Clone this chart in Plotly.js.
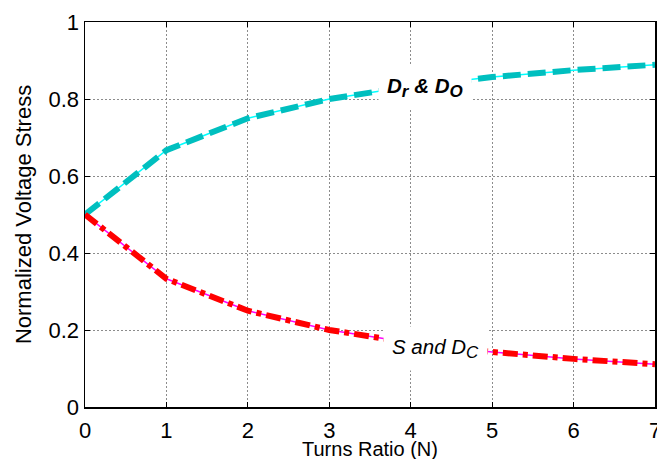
<!DOCTYPE html>
<html>
<head>
<meta charset="utf-8">
<script src="https://cdn.plot.ly/plotly-3.0.1.min.js"></script>
<style>html,body{margin:0;padding:0;background:#fff;}#chart{width:657px;height:459px;}</style>
</head>
<body>
<div id="chart"></div>
<script>
// Data
var turnsRatio = [0, 1, 2, 3, 4, 5, 6, 7];
var diodeStress = [0.5, 0.667, 0.75, 0.8, 0.833, 0.857, 0.875, 0.889];   // Dr & Do
var switchStress = [0.5, 0.333, 0.25, 0.2, 0.167, 0.143, 0.125, 0.111];  // S and Dc
var xTicks = [0, 1, 2, 3, 4, 5, 6, 7];
var yTicks = [0, 0.2, 0.4, 0.6, 0.8, 1];
var yTickLabels = ['0', '0.2', '0.4', '0.6', '0.8', '1'];

var FONT = 'Liberation Sans, Arial, sans-serif';

var traces = [
  {x: turnsRatio, y: diodeStress, mode: 'lines', line: {color: '#00FFFF', width: 1.5}, hoverinfo: 'skip'},
  {x: turnsRatio, y: diodeStress, mode: 'lines', line: {color: '#00BFBF', width: 6, dash: '18px,7px'}},
  {x: turnsRatio, y: switchStress, mode: 'lines', line: {color: '#FF00FF', width: 1.5}, hoverinfo: 'skip'},
  {x: turnsRatio, y: switchStress, mode: 'lines', line: {color: '#FF0000', width: 6, dash: '15px,5px,5px,5px'}}
];

var axisCommon = {
  showline: true, linecolor: '#000', linewidth: 1.5, mirror: 'ticks',
  ticks: 'inside', ticklen: 5, tickcolor: '#000', tickwidth: 1,
  showgrid: true, gridcolor: '#8c8c8c', gridwidth: 1, griddash: '2px,2px',
  zeroline: false, ticklabeloverflow: 'allow',
  tickfont: {family: FONT, size: 22, color: '#000'}
};

var layout = {
  width: 657, height: 459,
  margin: {l: 85, r: 2, t: 22, b: 52},
  paper_bgcolor: '#fff', plot_bgcolor: '#fff',
  showlegend: false,
  xaxis: Object.assign({}, axisCommon, {
    range: [0, 7], tickvals: xTicks, ticktext: xTicks.map(String), ticklabelstandoff: 3
  }),
  yaxis: Object.assign({}, axisCommon, {
    range: [0, 1], tickvals: yTicks, ticktext: yTickLabels,
    title: {text: 'Normalized Voltage Stress', font: {family: FONT, size: 22, color: '#000'}, standoff: 11}
  }),
  annotations: [
    {x: 0.5, y: -0.108, xref: 'paper', yref: 'paper', showarrow: false,
     xanchor: 'center', yanchor: 'middle',
     text: 'Turns Ratio (N)', font: {family: FONT, size: 20, color: '#000'}},
    {x: 4.17, y: 0.831, xref: 'x', yref: 'y', showarrow: false,
     text: '<b><i>D<sub><span style="font-size:17px">r</span></sub> &amp; D<sub><span style="font-size:17px">O</span></sub></i></b>',
     font: {family: FONT, size: 20.5, color: '#000'}, bgcolor: '#fff', borderpad: 8},
    {x: 4.3, y: 0.153, xref: 'x', yref: 'y', showarrow: false,
     text: '<i>S and D<sub><span style="font-size:17px">C</span></sub></i>',
     font: {family: FONT, size: 20.5, color: '#000'}, bgcolor: '#fff', borderpad: 8}
  ]
};

Plotly.newPlot('chart', traces, layout, {displayModeBar: false, staticPlot: true});
</script>
</body>
</html>
